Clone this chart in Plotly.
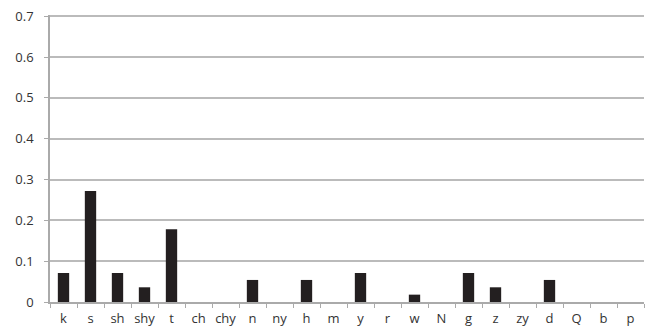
import plotly.graph_objects as go

categories = ["k", "s", "sh", "shy", "t", "ch", "chy", "n", "ny", "h", "m", "y",
              "r", "w", "N", "g", "z", "zy", "d", "Q", "b", "p"]
values = [0.071, 0.272, 0.071, 0.036, 0.178, 0, 0, 0.054, 0, 0.054, 0, 0.071,
          0, 0.018, 0, 0.071, 0.036, 0, 0.054, 0, 0, 0]
y_ticks = [0, 0.1, 0.2, 0.3, 0.4, 0.5, 0.6, 0.7]
y_tick_text = ["0", "0.1", "0.2", "0.3", "0.4", "0.5", "0.6", "0.7"]

fig = go.Figure(go.Bar(x=categories, y=values, marker=dict(color="#231f20", line=dict(width=0))))

fig.update_layout(
    width=650, height=331,
    margin=dict(l=50, r=6, t=15, b=29),
    paper_bgcolor="white", plot_bgcolor="white",
    bargap=0.58,
    showlegend=False,
    font=dict(family="Open Sans", size=13, color="#333333"),
)
fig.update_xaxes(
    type="category", tickson="boundaries", ticks="outside", ticklen=4,
    tickcolor="#aaaaaa", showline=True, linecolor="#aaaaaa", linewidth=1.5,
    showgrid=False, tickangle=0, automargin=False, ticklabelstandoff=4,
    tickfont=dict(size=13, color="#333333"),
)
fig.update_yaxes(
    range=[0, 0.703], tickvals=y_ticks, ticktext=y_tick_text, ticks="outside", ticklen=4,
    tickcolor="#aaaaaa", showline=True, linecolor="#aaaaaa", linewidth=1.5,
    showgrid=True, gridcolor="#bbbbbb", gridwidth=1.5, zeroline=False,
    automargin=False, ticklabelstandoff=8,
    tickfont=dict(size=13, color="#333333"),
)

fig.write_html("out.html", config={"displayModeBar": False},
               post_script="document.body.style.margin='0px';")
